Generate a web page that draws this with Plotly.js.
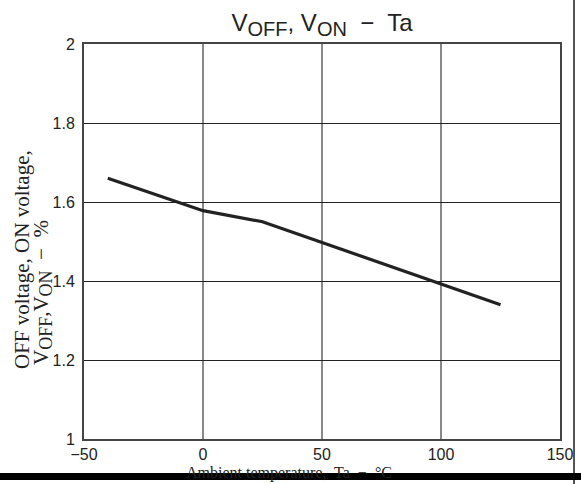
<!DOCTYPE html>
<html>
<head>
<meta charset="utf-8">
<script src="https://cdn.plot.ly/plotly-3.0.1.min.js"></script>
<style>html,body{margin:0;padding:0;background:#fff;}#chart{width:581px;height:484px;}</style>
</head>
<body>
<div id="chart"></div>
<script>
// Data
const temperature = [-40, 0, 25, 125];
const voltagePct = [1.66, 1.578, 1.55, 1.34];
const xTicks = [-50, 0, 50, 100, 150];
const xTickText = ['\u221250', '0', '50', '100', '150'];
const yTicks = [1, 1.2, 1.4, 1.6, 1.8, 2];
const yTickText = ['1', '1.2', '1.4', '1.6', '1.8', '2'];

const W = 581, H = 484;
const L = 84, R = 21, T = 44, B = 45;
const pw = W - L - R, ph = H - T - B;
const px = x => (x - L) / pw;          // pixel -> paper x
const py = y => (H - B - y) / ph;      // pixel -> paper y

const sans = 'Liberation Sans, Arial, sans-serif';
const serif = 'Liberation Serif, Times New Roman, serif';

const sub = (t, s) => '<sub><span style="font-size:' + s + 'px">' + t + '</span></sub>';

const trace = {
  x: temperature, y: voltagePct, type: 'scatter', mode: 'lines',
  line: {color: '#222', width: 3.2}, hoverinfo: 'skip', showlegend: false
};

const layout = {
  width: W, height: H,
  margin: {l: L, r: R, t: T, b: B, pad: 0},
  paper_bgcolor: '#fff', plot_bgcolor: '#fff',
  title: {
    text: 'V' + sub('OFF', 20) + ', V' + sub('ON', 20) + '  \u2212  Ta',
    font: {family: sans, size: 24, color: '#222'},
    xref: 'paper', x: 0.5, xanchor: 'center',
    yref: 'container', y: 1 - 23 / H, yanchor: 'middle'
  },
  xaxis: {
    range: [-50, 150], tickvals: xTicks, ticktext: xTickText,
    showgrid: true, gridcolor: '#888', gridwidth: 1.5,
    showline: true, linecolor: '#444', linewidth: 2, mirror: true,
    ticks: '', zeroline: false, ticklabelstandoff: 0,
    tickfont: {family: sans, size: 16, color: '#222'}
  },
  yaxis: {
    range: [1, 2], tickvals: yTicks, ticktext: yTickText,
    showgrid: true, gridcolor: '#222', gridwidth: 1,
    showline: true, linecolor: '#444', linewidth: 2, mirror: true,
    ticks: '', zeroline: false, ticklabelstandoff: 4,
    tickfont: {family: sans, size: 16, color: '#222'}
  },
  shapes: [
    {type: 'line', xref: 'paper', yref: 'paper', x0: px(574), x1: px(574), y0: py(0), y1: py(H),
     line: {color: '#555', width: 2}},
    {type: 'rect', xref: 'paper', yref: 'paper', x0: px(0), x1: px(W), y0: py(480), y1: py(473),
     fillcolor: '#000', line: {width: 0}}
  ],
  annotations: [
    {text: 'OFF voltage, ON voltage,', xref: 'paper', yref: 'paper', x: px(22), y: py(260),
     xanchor: 'center', yanchor: 'middle', textangle: -90, showarrow: false,
     font: {family: serif, size: 21, color: '#222'}},
    {text: 'V' + sub('OFF', 18) + ',V' + sub('ON', 18) + '  \u2212  %', xref: 'paper', yref: 'paper', x: px(42), y: py(293),
     xanchor: 'center', yanchor: 'middle', textangle: -90, showarrow: false,
     font: {family: serif, size: 21, color: '#222'}},
    {text: 'Ambient temperature,  Ta  \u2212  \u00B0C', xref: 'paper', yref: 'paper', x: px(289), y: py(473),
     xanchor: 'center', yanchor: 'middle', showarrow: false,
     font: {family: serif, size: 16, color: '#222'}}
  ]
};

Plotly.newPlot('chart', [trace], layout, {staticPlot: true, displayModeBar: false});
</script>
</body>
</html>
